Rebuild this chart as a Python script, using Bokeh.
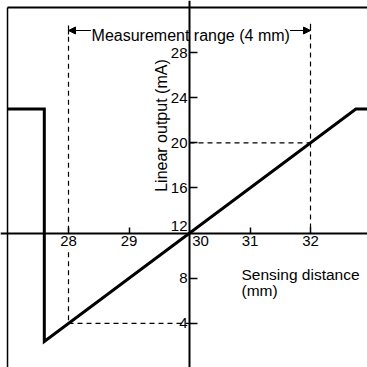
import math
from bokeh.plotting import figure
from bokeh.models import (LinearAxis, FixedTicker, Arrow, NormalHead,
                          Range1d, ColumnDataSource)
from bokeh.core.properties import value
from bokeh.embed import file_html
from bokeh.resources import INLINE

# ---- data ----
distance_mm = [26.99, 27.6, 27.6, 32.75, 33.0]
output_mA = [23.0, 23.0, 2.4, 23.0, 23.0]

x_ticks = [28, 29, 31, 32]
y_ticks = [4, 8, 16, 20, 24, 28]
origin_x = 30      # y axis position (mm)
origin_y = 12      # x axis position (mA)
range_start = 28   # measurement range start (mm)
range_end = 32     # measurement range end (mm)
out_at_start = 4   # mA at range start
out_at_end = 20    # mA at range end

FONT = "Liberation Sans"

X0, X1 = 26.876, 32.942
Y0, Y1 = 0.099, 32.606
BORDER_X, BORDER_Y = 26.992, 31.986

p = figure(width=367, height=367, output_backend="svg", toolbar_location=None,
           x_axis_type=None, y_axis_type=None, min_border=0,
           x_range=Range1d(X0, X1), y_range=Range1d(Y0, Y1))
p.outline_line_color = None
p.background_fill_color = "white"

# frame borders (top and left only)
p.segment(x0=[BORDER_X], y0=[BORDER_Y], x1=[X1], y1=[BORDER_Y],
          line_color="black", line_width=2)
p.segment(x0=[BORDER_X], y0=[BORDER_Y], x1=[BORDER_X], y1=[Y0],
          line_color="black", line_width=1.5)

# axes at fixed location
xaxis = LinearAxis(fixed_location=origin_y, ticker=FixedTicker(ticks=x_ticks))
xaxis.major_tick_in = 6
xaxis.major_tick_out = 0
xaxis.minor_tick_in = 0
xaxis.minor_tick_out = 0
xaxis.axis_line_width = 2
xaxis.major_tick_line_width = 1.5
xaxis.major_label_standoff = 3
xaxis.major_label_text_font = FONT
xaxis.major_label_text_font_size = "15px"
xaxis.major_label_text_color = "black"
p.add_layout(xaxis, "below")

yaxis = LinearAxis(fixed_location=origin_x, ticker=FixedTicker(ticks=y_ticks))
yaxis.major_tick_in = 8
yaxis.major_tick_out = 0
yaxis.minor_tick_in = 0
yaxis.minor_tick_out = 0
yaxis.axis_line_width = 2
yaxis.major_tick_line_width = 1.5
yaxis.major_label_standoff = 2
yaxis.major_label_text_font = FONT
yaxis.major_label_text_font_size = "15px"
yaxis.major_label_text_color = "black"
p.add_layout(yaxis, "left")

# origin labels
p.text(x=[origin_x], y=[origin_y], text=[str(origin_y)], text_align="right",
       text_baseline="bottom", x_offset=-2, y_offset=-2,
       text_font=value(FONT), text_font_size="15px", text_color="black")
p.text(x=[origin_x], y=[origin_y], text=[str(origin_x)], text_align="center",
       text_baseline="top", x_offset=11, y_offset=3,
       text_font=value(FONT), text_font_size="15px", text_color="black")

# dashed guide lines
p.segment(x0=[range_start, range_start, range_start, range_end, origin_x],
          y0=[29.4, 10.3, out_at_start, 29.6, out_at_end],
          x1=[range_start, range_start, origin_x, range_end, range_end],
          y1=[origin_y, out_at_start, out_at_start, origin_y, out_at_end],
          line_color="black", line_width=1.2, line_dash="5 4")

# measurement range bracket
p.segment(x0=[range_start, range_end], y0=[30.4, 29.95],
          x1=[range_start, range_end], y1=[29.6, 30.55],
          line_color="black", line_width=1.2)
p.add_layout(Arrow(end=NormalHead(size=7, fill_color="black", line_color="black"),
                   x_start=28.37, y_start=29.95, x_end=range_start, y_end=29.95,
                   line_width=1.2))
p.add_layout(Arrow(end=NormalHead(size=7, fill_color="black", line_color="black"),
                   x_start=31.66, y_start=29.95, x_end=range_end, y_end=29.95,
                   line_width=1.2))
p.text(x=[(range_start + range_end) / 2 + 0.02], y=[29.5],
       text=["Measurement range (4 mm)"], text_align="center",
       text_baseline="alphabetic", text_font=value(FONT), text_font_size="16px",
       text_color="black")

# axis titles
p.text(x=[29.537], y=[21.53], text=["Linear output (mA)"], angle=math.pi / 2,
       text_align="center", text_baseline="alphabetic", text_font=value(FONT),
       text_font_size="16px", text_color="black")
p.text(x=[30.86, 30.86], y=[8.34, 6.92], text=["Sensing distance", "(mm)"],
       text_align="left", text_baseline="alphabetic", text_font=value(FONT),
       text_font_size="15.5px", text_color="black")

# characteristic line
src = ColumnDataSource(dict(x=distance_mm, y=output_mA))
p.line("x", "y", source=src, line_color="black", line_width=3, line_join="miter")

open("out.html", "w").write(file_html(p, INLINE))
